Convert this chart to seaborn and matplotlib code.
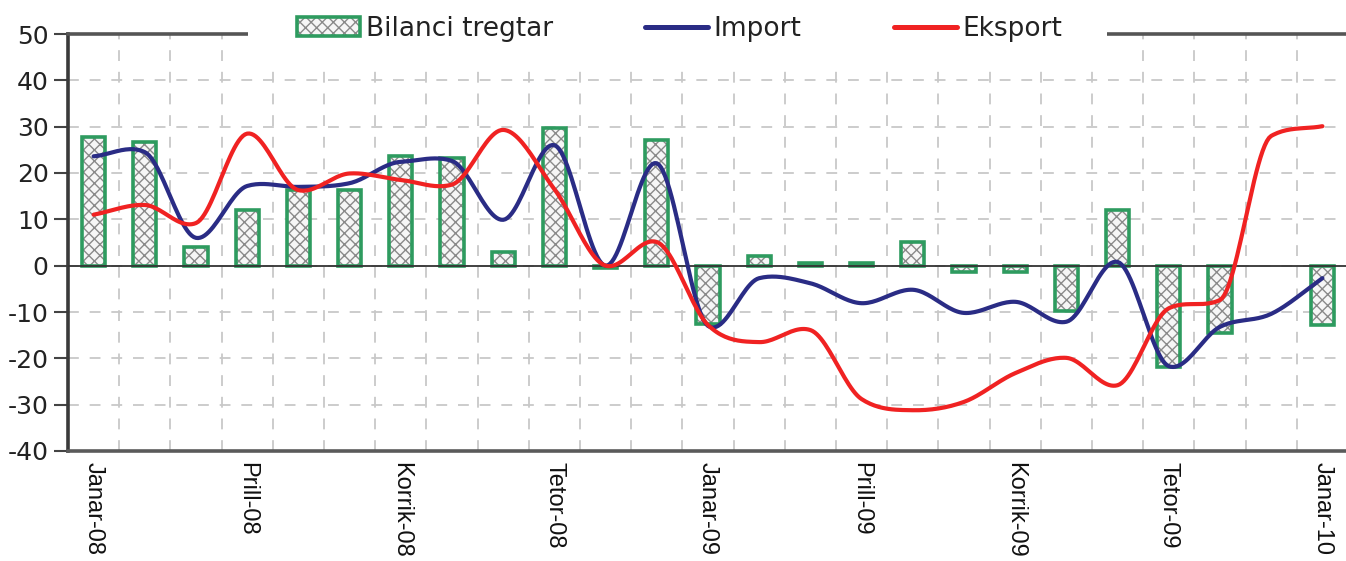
import numpy as np
import pandas as pd
import matplotlib
matplotlib.use("Agg")
import matplotlib.pyplot as plt
from matplotlib.patches import Rectangle, Patch
from matplotlib.lines import Line2D
import seaborn as sns

# Monthly series, January 2008 - January 2010 (annual change, %)
months = ["Janar-08", "Shkurt-08", "Mars-08", "Prill-08", "Maj-08", "Qershor-08",
          "Korrik-08", "Gusht-08", "Shtator-08", "Tetor-08", "Nëntor-08", "Dhjetor-08",
          "Janar-09", "Shkurt-09", "Mars-09", "Prill-09", "Maj-09", "Qershor-09",
          "Korrik-09", "Gusht-09", "Shtator-09", "Tetor-09", "Nëntor-09", "Dhjetor-09",
          "Janar-10"]
bilanci = [27.8, 26.7, 4.0, 12.0, 16.3, 16.3, 23.7, 23.3, 3.0, 29.7, -0.5, 27.1,
           -12.6, 2.1, 0.5, 0.5, 5.1, -1.4, -1.4, -9.8, 12.0, -21.9, -14.6, np.nan, -12.8]
importi = [23.6, 24.5, 6.0, 17.2, 17.0, 17.8, 22.4, 22.6, 9.9, 26.0, 0.0, 22.1,
           -13.0, -2.7, -3.8, -8.1, -5.2, -10.2, -7.8, -12.1, 0.8, -21.7, -13.2, -10.4, -2.7]
eksporti = [11.0, 13.1, 9.2, 28.5, 16.3, 19.9, 18.5, 17.5, 29.3, 16.5, 0.0, 5.1,
            -12.8, -16.5, -13.9, -28.8, -31.2, -29.4, -23.2, -19.9, -25.8, -9.2, -7.4, 28.0, 30.1]
shown_ticks = ["Janar-08", "Prill-08", "Korrik-08", "Tetor-08", "Janar-09",
               "Prill-09", "Korrik-09", "Tetor-09", "Janar-10"]

GREEN = "#2e9b5f"
NAVY = "#2a2c85"
RED = "#f02222"


def smooth_curve(y, steps=24):
    """Smoothed path through every monthly value: Catmull-Rom tangents,
    limited on monotone stretches so the curve does not wobble."""
    y = np.asarray(y, float)
    n = len(y)
    d = np.diff(y)
    m = np.zeros(n)
    m[0], m[-1] = d[0], d[-1]
    for i in range(1, n - 1):
        cr = 0.5 * (d[i - 1] + d[i])
        if d[i - 1] * d[i] > 0:
            lim = 3.0 * min(abs(d[i - 1]), abs(d[i]))
            m[i] = np.sign(cr) * min(abs(cr), lim)
        else:
            m[i] = 0.6 * cr
    t = np.linspace(0, 1, steps, endpoint=False)
    h00 = 2 * t**3 - 3 * t**2 + 1
    h10 = t**3 - 2 * t**2 + t
    h01 = -2 * t**3 + 3 * t**2
    h11 = t**3 - t**2
    xs, ys = [], []
    for i in range(n - 1):
        xs.append(i + t)
        ys.append(h00 * y[i] + h10 * m[i] + h01 * y[i + 1] + h11 * m[i + 1])
    xs.append([n - 1.0]); ys.append([y[-1]])
    return np.concatenate(xs), np.concatenate(ys)


sns.set_style("white")
plt.rcParams["font.family"] = ["DejaVu Sans"]
plt.rcParams["axes.unicode_minus"] = False
plt.rcParams["hatch.linewidth"] = 1.0

fig = plt.figure(figsize=(13.46, 5.61), dpi=100)
ax = fig.add_axes([68 / 1346, 1 - 451 / 561, 1280 / 1346, 417 / 561])

HATCH_FACE = "#f6f6f6"
HATCH_LINE = "#8a8a8a"

df = pd.DataFrame({"muaji": months, "bilanci": bilanci})
sns.barplot(data=df, x="muaji", y="bilanci", order=months, ax=ax, width=0.45,
            color=HATCH_FACE, edgecolor=HATCH_LINE, hatch="xxx", linewidth=0,
            errorbar=None, zorder=3)
for p in list(ax.patches):
    ax.add_patch(Rectangle(p.get_xy(), p.get_width(), p.get_height(), fill=False,
                           edgecolor=GREEN, linewidth=2.6, zorder=4))

xi, yi = smooth_curve(importi)
xe, ye = smooth_curve(eksporti)
sns.lineplot(x=xi, y=yi, sort=False, estimator=None, color=NAVY, linewidth=3.0,
             ax=ax, zorder=6)
sns.lineplot(x=xe, y=ye, sort=False, estimator=None, color=RED, linewidth=3.0,
             ax=ax, zorder=7)

ax.axhline(0, color="#333333", linewidth=1.3, zorder=5)

ax.set_xlim(-0.5, len(months) - 0.5)
ax.set_ylim(-40, 50)
ax.set_yticks(np.arange(-40, 51, 10))
ax.set_xticks([months.index(m) for m in shown_ticks])
ax.set_xticklabels(shown_ticks, rotation=270, family="Liberation Sans",
                   fontsize=17, color="#111111", va="top", ha="center")
ax.set_xticks(np.arange(0.5, len(months) - 1, 1.0), minor=True)
ax.set_xlabel("")
ax.set_ylabel("")
ax.tick_params(axis="y", direction="out", length=10, width=1.5, color="#444444",
               labelsize=18, labelcolor="#222222", pad=4, left=True)
ax.tick_params(axis="x", which="both", length=0, pad=8)

grid_kw = dict(color="#c8c8c8", linewidth=1.3, linestyle=(0, (6, 6)))
ax.grid(axis="y", which="major", **grid_kw)
ax.grid(axis="x", which="minor", **grid_kw)
ax.grid(axis="x", which="major", visible=False)
ax.set_axisbelow(True)

ax.spines["left"].set_color("#3a3a3a")
ax.spines["left"].set_linewidth(2.6)
ax.spines["bottom"].set_color("#5a5a5a")
ax.spines["bottom"].set_linewidth(2.6)
ax.spines["top"].set_visible(True)
ax.spines["top"].set_color("#555555")
ax.spines["top"].set_linewidth(2.6)
ax.spines["right"].set_visible(False)

# white band behind the legend, interrupting the top frame line
fig.patches.append(Rectangle((248 / 1346, 1 - 62 / 561), (1107 - 248) / 1346, 62 / 561,
                             transform=fig.transFigure, facecolor="white",
                             edgecolor="none", zorder=4))

bar_handle = (Patch(facecolor=HATCH_FACE, edgecolor=HATCH_LINE, hatch="xxx", linewidth=0),
              Patch(facecolor="none", edgecolor=GREEN, linewidth=2.6))
handles = [bar_handle,
           Line2D([], [], color=NAVY, linewidth=3.6),
           Line2D([], [], color=RED, linewidth=3.6)]
labels = ["Bilanci tregtar", "Import", "Eksport"]
leg = fig.legend(handles, labels, loc="center", bbox_to_anchor=(0.505, 1 - 29 / 561),
                 ncol=3, frameon=False, fontsize=19,
                 handlelength=2.4, handleheight=0.75, handletextpad=0.2,
                 columnspacing=3.5, borderpad=0.3, borderaxespad=0)
leg.set_zorder(5)
for t in leg.get_texts():
    t.set_color("#222222")

fig.savefig("out.png", dpi=100)
